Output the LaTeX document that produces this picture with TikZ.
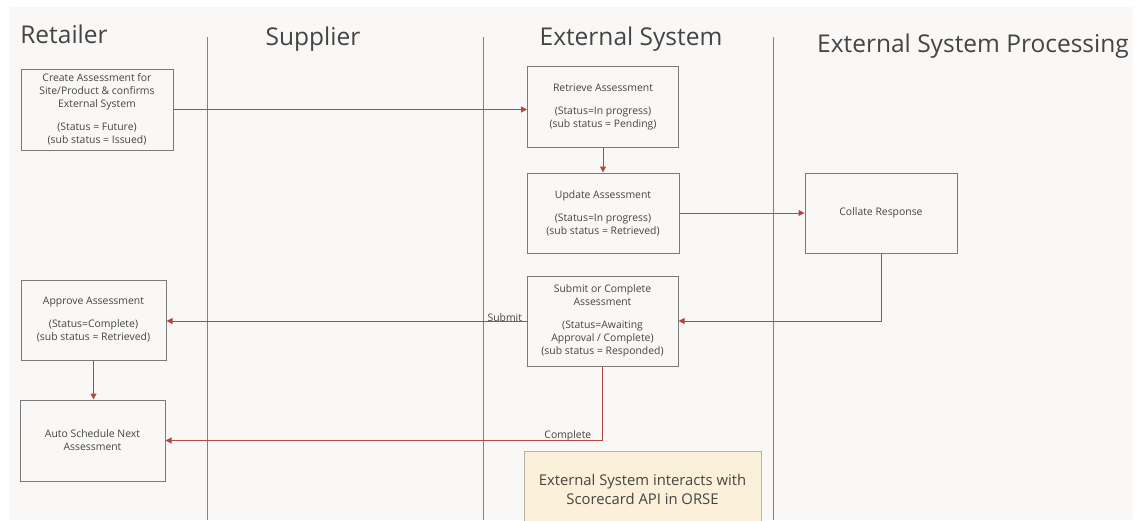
\documentclass[tikz,border=0pt]{standalone}
\usepackage{fontspec}
\setmainfont{Open Sans}
\usetikzlibrary{arrows.meta}
\definecolor{paper}{HTML}{FAF8F6}
\definecolor{lane}{HTML}{BC6C62}
\definecolor{flow}{HTML}{B5483E}
\definecolor{boxline}{HTML}{7A7A7A}
\definecolor{ink}{HTML}{444444}
\definecolor{notefill}{HTML}{FBF0D9}
\definecolor{noteline}{HTML}{B9B2A6}
\tikzset{
  lanetitle/.style={font=\fontsize{24.5}{28}\selectfont, text=ink, inner sep=0pt, anchor=base},
  stepbox/.style={draw=boxline, line width=1pt, fill=paper, align=center,
    font=\fontsize{10.4}{13}\selectfont, text=ink, inner sep=0pt},
  lanesep/.style={draw=lane, line width=1pt},
  flowarrow/.style={draw=flow, line width=1pt, -{Triangle[length=6pt,width=6pt]}},
  flowlabel/.style={font=\fontsize{10.4}{12}\selectfont, text=ink, inner sep=1pt},
  notebox/.style={draw=noteline, line width=0.8pt, fill=notefill, align=center,
    font=\fontsize{14.8}{19}\selectfont, text=ink, inner sep=0pt}
}
\begin{document}
\begin{tikzpicture}[x=1pt,y=-1pt]
  \useasboundingbox (0,0) rectangle (1145,520);
  \clip (0,0) rectangle (1145,520);
  \fill[white] (0,0) rectangle (1145,520);
  \fill[paper] (9,7) rectangle (1133,520);

  % swimlane titles
  \node[lanetitle] (tRet) at (64,43) {Retailer};
  \node[lanetitle] (tSup) at (313,45) {Supplier};
  \node[lanetitle] (tExt) at (631,45) {External System};
  \node[lanetitle] (tPro) at (973,52) {External System Processing};

  % swimlane separators
  \coordinate (s1t) at (207,37); \coordinate (s1b) at (207,520);
  \coordinate (s2t) at (483,37); \coordinate (s2b) at (483,520);
  \coordinate (s3t) at (773,37); \coordinate (s3b) at (773,520);
  \draw[lanesep] (s1t) -- (s1b);
  \draw[lanesep] (s2t) -- (s2b);
  \draw[lanesep] (s3t) -- (s3b);

  % process steps
  \node[stepbox, minimum width=152pt, minimum height=81pt] (create) at (97,109.5)
    {Create Assessment for\\Site/Product \& confirms\\External System\\[10pt](Status = Future)\\(sub status = Issued)};
  \node[stepbox, minimum width=151pt, minimum height=81pt] (retrieve) at (603,107)
    {Retrieve Assessment\\[10pt](Status=In progress)\\(sub status = Pending)};
  \node[stepbox, minimum width=152pt, minimum height=80pt] (update) at (603,213)
    {Update Assessment\\[10pt](Status=In progress)\\(sub status = Retrieved)};
  \node[stepbox, minimum width=152pt, minimum height=80pt] (collate) at (881,213)
    {Collate Response};
  \node[stepbox, minimum width=151pt, minimum height=90pt] (submit) at (602.5,321)
    {Submit or Complete\\Assessment\\[10pt](Status=Awaiting\\Approval / Complete)\\(sub status = Responded)};
  \node[stepbox, minimum width=145pt, minimum height=80pt] (approve) at (93.5,320)
    {Approve Assessment\\[10pt](Status=Complete)\\(sub status = Retrieved)};
  \node[stepbox, minimum width=145pt, minimum height=81pt] (auto) at (92.5,440.5)
    {Auto Schedule Next\\Assessment};
  \node[notebox, minimum width=237pt, minimum height=80pt, text depth=0pt] (note) at (642.5,491)
    {\raisebox{15pt}{\parbox{235pt}{\centering External System interacts with\\Scorecard API in ORSE}}};

  % flows
  \draw[flowarrow] (create.east) -- (create.east -| retrieve.west);
  \draw[flowarrow] (retrieve.south) -- (update.north);
  \draw[flowarrow] (update.east) -- (collate.west);
  \draw[flowarrow] (collate.south) |- (submit.east);
  \draw[flowarrow] (submit.west) -- (submit.west -| approve.east)
    node[flowlabel, pos=0, anchor=south east, xshift=-3pt, yshift=-2pt] {Submit};
  \draw[flowarrow] (approve.south) -- (approve.south |- auto.north);
  \coordinate (cturn) at (submit.south |- auto.east);
  \draw[flowarrow] (submit.south) -- (cturn) -- (auto.east);
  \node[flowlabel, anchor=south east] (clabel) at ([xshift=-10pt,yshift=-2pt]cturn) {Complete};
\end{tikzpicture}
\end{document}
